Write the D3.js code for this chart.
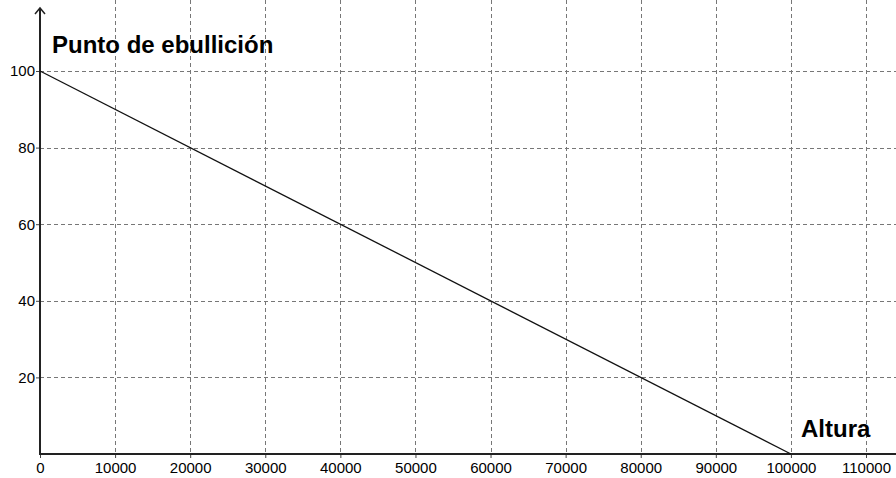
<!DOCTYPE html>
<html>
<head>
<meta charset="utf-8">
<script src="https://cdn.jsdelivr.net/npm/d3@7"></script>
<style>
  body { margin: 0; background: #fff; }
  svg { display: block; font-family: "Liberation Sans", Arial, sans-serif; }
</style>
</head>
<body>
<svg id="chart"></svg>
<script>
// data
const altura = [0, 100000];
const ebullicion = [100, 0];
const xTicks = [0, 10000, 20000, 30000, 40000, 50000, 60000, 70000, 80000, 90000, 100000, 110000];
const yTicks = [20, 40, 60, 80, 100];

const width = 896, height = 478;
const svg = d3.select('#chart').attr('width', width).attr('height', height);

const x = d3.scaleLinear().domain([0, 110000]).range([40, 866]);
const y = d3.scaleLinear().domain([0, 100]).range([454, 71]);

// grid
const grid = svg.append('g')
    .attr('stroke', '#777')
    .attr('stroke-width', 1)
    .attr('stroke-dasharray', '4,3');

grid.selectAll('.vg')
    .data(xTicks.filter(d => d > 0))
    .join('line')
    .attr('x1', d => Math.round(x(d)) + 0.5)
    .attr('x2', d => Math.round(x(d)) + 0.5)
    .attr('y1', 0)
    .attr('y2', y(0));

grid.selectAll('.hg')
    .data(yTicks)
    .join('line')
    .attr('x1', x(0))
    .attr('x2', width)
    .attr('y1', d => Math.round(y(d)) + 0.5)
    .attr('y2', d => Math.round(y(d)) + 0.5);

// x axis
const xaxis = d3.axisBottom(x)
    .tickValues(xTicks)
    .tickSize(4)
    .tickSizeOuter(0)
    .tickFormat(d3.format('d'));

const xg = svg.append('g')
    .attr('transform', `translate(0, ${y(0)})`)
    .call(xaxis);
xg.select('.domain').remove();
xg.append('line')
    .attr('x1', x(0)).attr('x2', width)
    .attr('stroke', '#222').attr('stroke-width', 2);
xg.selectAll('.tick line').attr('stroke', '#444');
xg.selectAll('.tick text')
    .style('font-size', '15px')
    .style('font-family', '"Liberation Sans", Arial, sans-serif')
    .attr('fill', '#000')
    .attr('y', 5)
    .attr('dy', '0.9em');

// y axis
const yaxis = d3.axisLeft(y)
    .tickValues(yTicks)
    .tickSize(4)
    .tickSizeOuter(0);

const yg = svg.append('g')
    .attr('transform', `translate(${x(0)}, 0)`)
    .call(yaxis);
yg.select('.domain').remove();
yg.append('line')
    .attr('y1', y(0) + 1).attr('y2', 9)
    .attr('stroke', '#222').attr('stroke-width', 2);
yg.append('path')
    .attr('d', 'M-5,14 L0,8 L5,14')
    .attr('fill', 'none')
    .attr('stroke', '#222')
    .attr('stroke-width', 1.5);
yg.selectAll('.tick line').attr('stroke', '#444');
yg.selectAll('.tick text')
    .style('font-size', '15px')
    .style('font-family', '"Liberation Sans", Arial, sans-serif')
    .attr('fill', '#000')
    .attr('x', -5);

// line
const line = d3.line()
    .x(d => x(d[0]))
    .y(d => y(d[1]));

svg.append('path')
    .datum(altura.map((a, i) => [a, ebullicion[i]]))
    .attr('d', line)
    .attr('fill', 'none')
    .attr('stroke', '#111')
    .attr('stroke-width', 1.3);

// labels
svg.append('text')
    .attr('x', 52)
    .attr('y', 53)
    .style('font-size', '24px')
    .attr('font-weight', 'bold')
    .text('Punto de ebullición');

svg.append('text')
    .attr('x', 801)
    .attr('y', 437)
    .style('font-size', '24px')
    .attr('font-weight', 'bold')
    .text('Altura');
</script>
</body>
</html>
